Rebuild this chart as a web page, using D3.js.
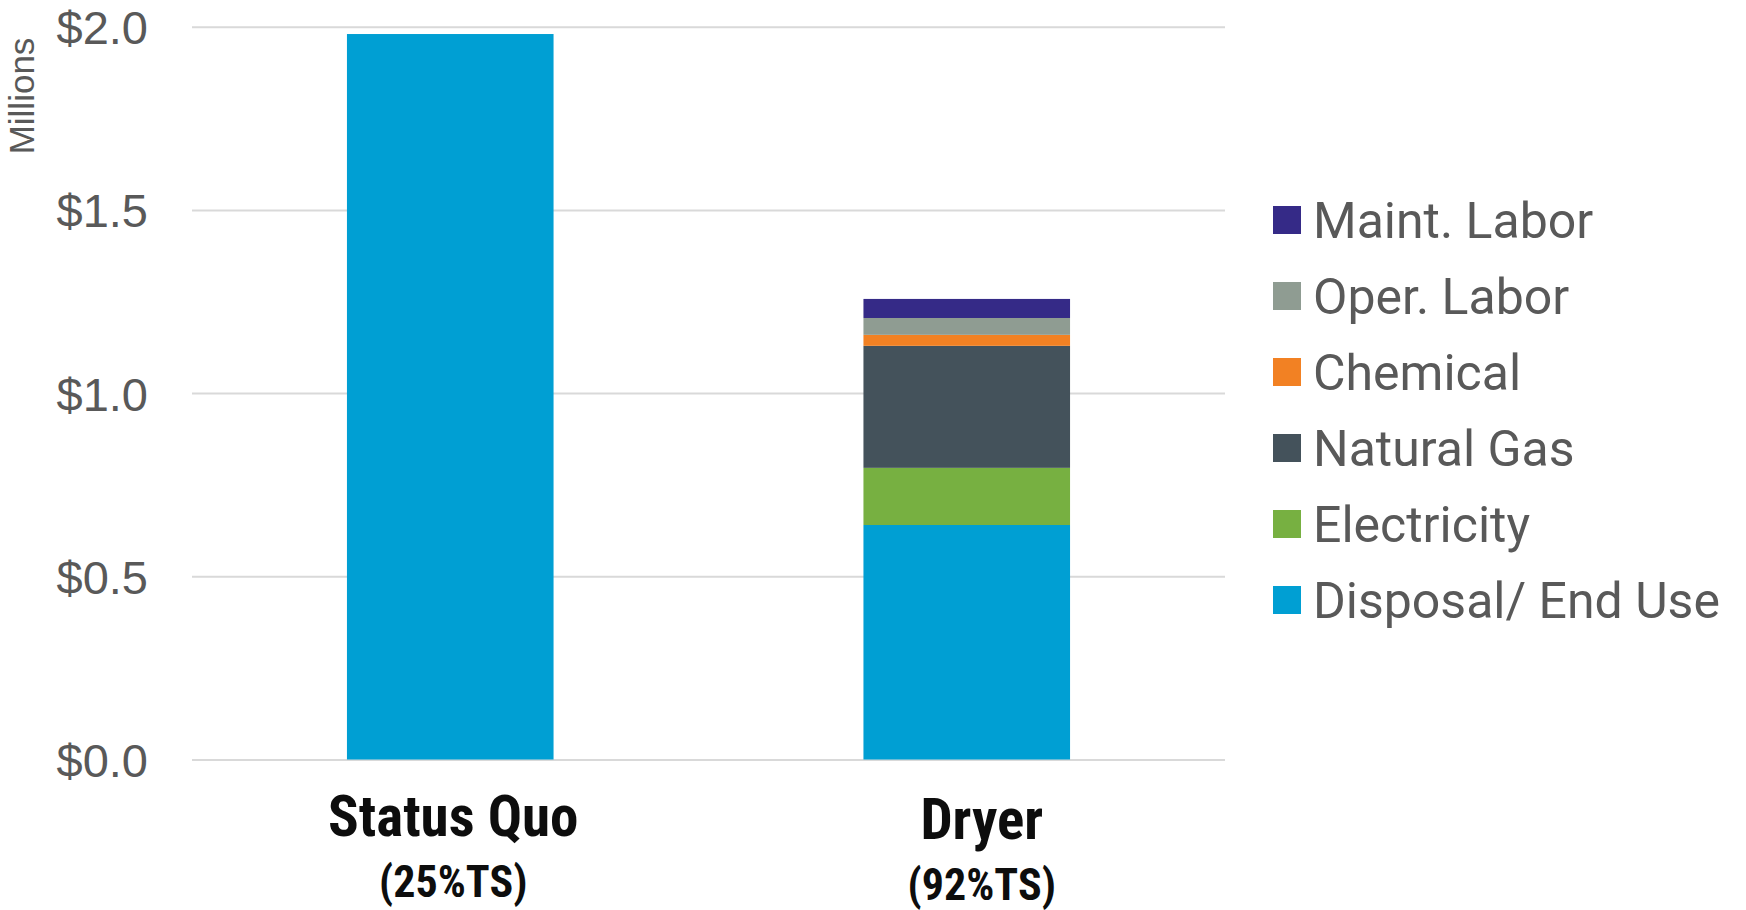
<!DOCTYPE html>
<html>
<head>
<meta charset="utf-8">
<script src="https://cdn.jsdelivr.net/npm/d3@7"></script>
<style>
  html, body { margin: 0; padding: 0; background: #ffffff; }
  svg { display: block; }
</style>
</head>
<body>
<svg id="chart" width="1746" height="910"></svg>
<script>
// Annual cost comparison (millions of dollars)
const categories = ["Status Quo", "Dryer"];
const categorySubLabels = ["(25%TS)", "(92%TS)"];

// Cost components, stacked bottom to top
const seriesNames = ["Disposal/ End Use", "Electricity", "Natural Gas", "Chemical", "Oper. Labor", "Maint. Labor"];
const seriesColors = ["#009fd3", "#77b041", "#44525b", "#f28123", "#8f9c92", "#352a87"];

const disposalEndUse = [1.98, 0.64];
const electricity   = [0, 0.156];
const naturalGas    = [0, 0.333];
const chemical      = [0, 0.030];
const operLabor     = [0, 0.046];
const maintLabor    = [0, 0.052];

const yTickValues = [0, 0.5, 1.0, 1.5, 2.0];
const yAxisTitle = "Millions";

// ---- build rows for the stack layout
const seriesValues = [disposalEndUse, electricity, naturalGas, chemical, operLabor, maintLabor];
const rows = categories.map((c, i) => {
  const r = { category: c };
  seriesNames.forEach((s, j) => { r[s] = seriesValues[j][i]; });
  return r;
});

const svg = d3.select("#chart");

const plotLeft = 192, plotRight = 1225;
const plotTop = 26.7, plotBottom = 759.5;

const x = d3.scaleBand().domain(categories).range([plotLeft, plotRight]).padding(0);
const y = d3.scaleLinear().domain([0, 2]).range([plotBottom, plotTop]);
const color = d3.scaleOrdinal().domain(seriesNames).range(seriesColors);

const barWidth = x.bandwidth() * 0.4;

// gridlines
const grid = svg.append("g")
  .attr("transform", `translate(${plotLeft},0)`)
  .call(d3.axisLeft(y).tickValues(yTickValues).tickSize(-(plotRight - plotLeft)).tickFormat(""));
grid.select(".domain").remove();
grid.selectAll(".tick line").attr("stroke", "#d9d9d9").attr("stroke-width", 2);

// value axis labels
const yAxis = svg.append("g")
  .attr("transform", `translate(${plotLeft},0)`)
  .call(d3.axisLeft(y).tickValues(yTickValues).tickSize(0).tickPadding(44)
    .tickFormat(d => "$" + d.toFixed(1)));
yAxis.select(".domain").remove();
yAxis.selectAll(".tick text")
  .attr("fill", "#595959")
  .style("font-family", "'Liberation Sans', Arial, sans-serif")
  .style("font-size", "47px")
  .attr("dy", "0.36em");

// axis title
svg.append("text")
  .attr("transform", "translate(34,96) rotate(-90)")
  .attr("text-anchor", "middle")
  .attr("fill", "#595959")
  .style("font-family", "'Liberation Sans', Arial, sans-serif")
  .style("font-size", "35px")
  .text(yAxisTitle);

// stacked bars
const stacked = d3.stack().keys(seriesNames)(rows);
svg.append("g").selectAll("g")
  .data(stacked)
  .join("g")
  .attr("fill", d => color(d.key))
  .selectAll("rect")
  .data(d => d.filter(p => p[1] - p[0] > 0))
  .join("rect")
  .attr("x", d => x(d.data.category) + (x.bandwidth() - barWidth) / 2)
  .attr("width", barWidth)
  .attr("y", d => y(d[1]))
  .attr("height", d => y(d[0]) - y(d[1]));

// category labels
const labelFont = "'Liberation Sans Narrow', 'Roboto Condensed', 'DejaVu Sans Condensed', sans-serif";
const labelLayout = [
  { dx: 3,  base1: 836, base2: 897 },
  { dx: 15, base1: 839, base2: 900 }
];
const catLabels = svg.append("g");
categories.forEach((c, i) => {
  const cx = x(c) + x.bandwidth() / 2 + labelLayout[i].dx;
  catLabels.append("text")
    .attr("x", cx).attr("y", labelLayout[i].base1)
    .attr("text-anchor", "middle")
    .attr("fill", "#0d0d0d")
    .style("font-family", labelFont)
    .style("font-weight", "bold")
    .style("font-size", "57px")
    .text(c);
  catLabels.append("text")
    .attr("x", cx).attr("y", labelLayout[i].base2)
    .attr("text-anchor", "middle")
    .attr("fill", "#0d0d0d")
    .style("font-family", labelFont)
    .style("font-weight", "bold")
    .style("font-size", "44px")
    .text(categorySubLabels[i]);
});

// legend (top item = top of stack)
const legendItems = seriesNames.slice().reverse();
const legend = svg.append("g").attr("transform", "translate(1273,220)");
const li = legend.selectAll("g")
  .data(legendItems)
  .join("g")
  .attr("transform", (d, i) => `translate(0,${i * 76})`);
li.append("rect")
  .attr("x", 0).attr("y", -14)
  .attr("width", 28).attr("height", 28)
  .attr("fill", d => color(d));
li.append("text")
  .attr("x", 40).attr("y", 17.5)
  .attr("fill", "#595959")
  .style("font-family", "Roboto, 'Open Sans', sans-serif")
  .style("font-size", "50px")
  .text(d => d);
</script>
</body>
</html>
